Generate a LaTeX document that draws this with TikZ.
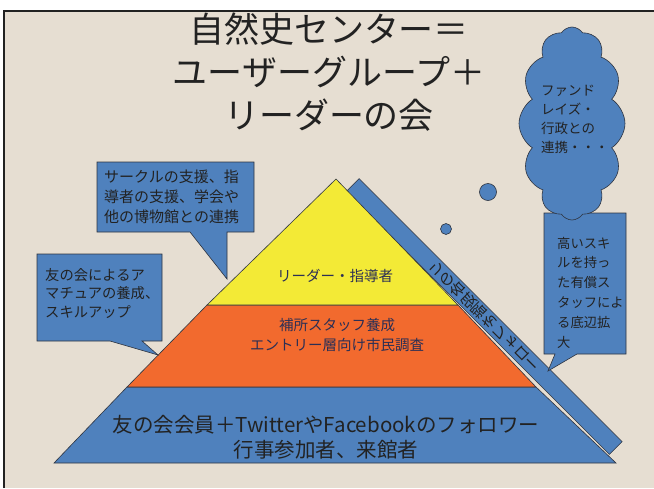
\documentclass[tikz,border=0pt]{standalone}
\usepackage{fontspec}
\setmainfont{Noto Sans CJK JP}
\usetikzlibrary{shapes.symbols}
\definecolor{bg}{HTML}{E6DED2}
\definecolor{pblue}{HTML}{4F81BD}
\definecolor{pyel}{HTML}{F3EA36}
\definecolor{pora}{HTML}{F26A2E}
\definecolor{edgec}{HTML}{2E3440}
\definecolor{navy}{HTML}{2B2F55}
\definecolor{ink}{HTML}{222222}
\begin{document}
\begin{tikzpicture}[x=1pt,y=-1pt,
  bluefill/.style={fill=pblue, draw=edgec, line width=0.6pt},
  layer/.style={draw=edgec, line width=0.6pt},
  calltext/.style={anchor=west, align=left, inner sep=0pt, text=ink},
  pyrtext/.style={align=center, inner sep=0pt, text=navy}]
\useasboundingbox (0,0) rectangle (654,488);
% page background
\fill[white] (0,0) rectangle (654,488);
\fill[bg] (4,11) rectangle (654,488);
\draw[line width=1.6pt, ink] (4,488) -- (4,11) -- (654,11);

% follow bar (behind the pyramid)
\node[bluefill, rotate=-45, minimum width=372pt, minimum height=18pt, inner sep=0pt,
      font=\fontsize{15pt}{15pt}\selectfont, text=ink] (bar) at (484.25,316.5)
      {\scalebox{1}[-1]{リの各段階をフォロー}};

% pyramid
\coordinate (apex) at (336,179);
\coordinate (yl) at (207,305);
\coordinate (yr) at (458,305);
\coordinate (ol) at (127,387);
\coordinate (or) at (536,387);
\coordinate (bl) at (54,463);
\coordinate (br) at (616,463);
\filldraw[layer, fill=pblue] (ol) -- (or) -- (br) -- (bl) -- cycle;
\filldraw[layer, fill=pora] (yl) -- (yr) -- (or) -- (ol) -- cycle;
\filldraw[layer, fill=pyel] (apex) -- (yr) -- (yl) -- cycle;

\node[pyrtext, font=\fontsize{14.5pt}{20pt}\selectfont] (top) at (335,276) {リーダー・指導者};
\node[pyrtext, font=\fontsize{14.5pt}{20pt}\selectfont] (mid) at (337,335) {補所スタッフ養成\\エントリー層向け市民調査};
\node[pyrtext, font=\fontsize{20.5pt}{25pt}\selectfont, text=ink] (base) at (326,437) {友の会会員＋TwitterやFacebookのフォロワー\\行事参加者、来館者};

% callout 1
\filldraw[bluefill] (97,162) -- (254,162) -- (254,232) -- (227,232) -- (227,279) -- (190,232) -- (97,232) -- cycle;
\node[calltext, font=\fontsize{15pt}{20pt}\selectfont] (c1) at (104,197) {サークルの支援、指\\導者の支援、学会や\\他の博物館との連携};

% callout 2
\filldraw[bluefill] (37,254) -- (162,254) -- (162,341) -- (142,341) -- (158,355) -- (110,341) -- (37,341) -- cycle;
\node[calltext, font=\fontsize{14.3pt}{18.5pt}\selectfont] (c2) at (45,293.5) {友の会によるア\\マチュアの養成、\\スキルアップ};

% callout 3
\filldraw[bluefill] (544,213) -- (626,213) -- (626,354) -- (577,354) -- (548,371) -- (555,354) -- (544,354) -- cycle;
\node[calltext, font=\fontsize{13.3pt}{19.8pt}\selectfont] (c3) at (557,292.5) {高いスキ\\ルを持っ\\た有償ス\\タッフによ\\る底辺拡\\大};

% thought cloud
\node[cloud, cloud puffs=12, cloud puff arc=115, cloud ignores aspect, minimum width=106pt, minimum height=193pt, bluefill] (cloud) at (572,123.5) {};
\node[calltext, font=\fontsize{13.5pt}{19pt}\selectfont] (cloudtext) at (541,119.5) {ファンド\\レイズ・\\行政との\\連携・・・};
\node[circle, bluefill, minimum size=17pt, inner sep=0pt] (bub1) at (488,192) {};
\node[circle, bluefill, minimum size=11pt, inner sep=0pt] (bub2) at (446,229) {};

% title
\node[align=center, inner sep=0pt, text=ink, font=\fontsize{35pt}{43pt}\selectfont] (title) at (329,72) {自然史センター＝\\ユーザーグループ＋\\リーダーの会};
\end{tikzpicture}
\end{document}
